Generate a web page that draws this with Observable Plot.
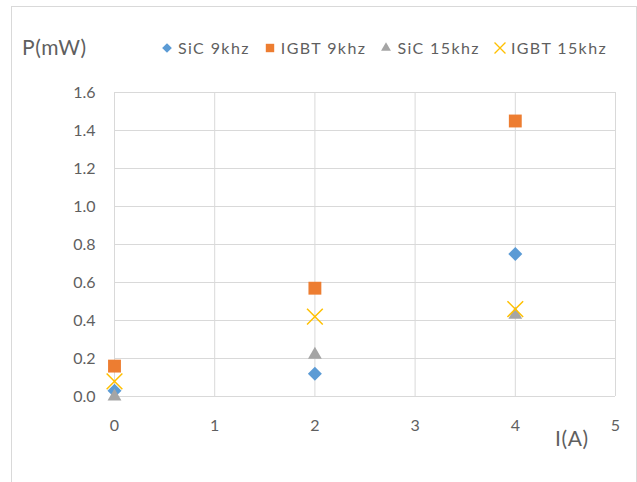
<!DOCTYPE html>
<html>
<head>
<meta charset="utf-8">
<script src="https://cdn.jsdelivr.net/npm/d3@7"></script>
<script src="https://cdn.jsdelivr.net/npm/@observablehq/plot@0.6"></script>
<style>
  html, body { margin: 0; padding: 0; background: #fff; }
  #chart { position: relative; width: 637px; height: 482px; overflow: hidden; font-family: Lato, "Liberation Sans", sans-serif; color: #5f5f5f; }
  #frame { position: absolute; left: 11px; top: 6px; width: 626px; height: 520px; box-sizing: border-box; border: 1px solid #d9d9d9; }
  #plot { position: absolute; left: 0; top: 0; }
  .title { position: absolute; font-size: 21px; line-height: 1; white-space: nowrap; letter-spacing: 0.6px; }
  #ytitle { left: 22px; top: 36px; }
  #xtitle { left: 555px; top: 427px; }
  #legend { position: absolute; left: 161px; top: 40px; display: flex; align-items: center; font-size: 16px; letter-spacing: 1.4px; line-height: 1; white-space: nowrap; }
  #legend .item { display: flex; align-items: center; margin-right: 14px; }
  #legend svg { margin-right: 5px; overflow: visible; }
</style>
</head>
<body>
<div id="chart">
  <div id="frame"></div>
  <div id="plot"></div>
  <div class="title" id="ytitle">P(mW)</div>
  <div class="title" id="xtitle">I(A)</div>
  <div id="legend"></div>
</div>
<script>
// Current (A) at which each loss was measured
const current = [0, 2, 4];

// Power loss (mW) per device and switching frequency
const sic9 = [0.03, 0.12, 0.75];
const igbt9 = [0.16, 0.57, 1.45];
const sic15 = [0.0, 0.22, 0.43];
const igbt15 = [0.08, 0.42, 0.46];

const seriesNames = ["SiC 9khz", "IGBT 9khz", "SiC 15khz", "IGBT 15khz"];
const seriesColors = ["#5B9BD5", "#ED7D31", "#A5A5A5", "#FFC000"];
const seriesSymbols = ["diamond2", "square2", "triangle2", "times"];

const xTicks = [0, 1, 2, 3, 4, 5];
const yTicks = [0, 0.2, 0.4, 0.6, 0.8, 1.0, 1.2, 1.4, 1.6];

const rows = (values) => current.map((c, i) => ({current: c, power: values[i]}));

const grid = {stroke: "#d9d9d9", strokeOpacity: 1, strokeWidth: 1};
const tickText = {tickSize: 0, label: null, fontSize: 16, fill: "#5f5f5f", letterSpacing: "0.4px"};

const chart = Plot.plot({
  width: 637,
  height: 482,
  marginLeft: 114,
  marginRight: 22,
  marginTop: 92,
  marginBottom: 86,
  style: {background: "transparent", fontFamily: "Lato, 'Liberation Sans', sans-serif", fontSize: "16px", color: "#5f5f5f"},
  x: {domain: [0, 5]},
  y: {domain: [0, 1.6]},
  marks: [
    Plot.gridX(xTicks, grid),
    Plot.gridY(yTicks, grid),
    Plot.axisX(xTicks, {...tickText, tickPadding: 23}),
    Plot.axisY(yTicks, {...tickText, tickPadding: 19, tickFormat: (d) => d.toFixed(1)}),
    Plot.dot(rows(sic9), {x: "current", y: "power", symbol: "diamond2", r: 6.3, fill: seriesColors[0], stroke: "none"}),
    Plot.dot(rows(igbt9), {x: "current", y: "power", symbol: "square2", r: 8.2, fill: seriesColors[1], stroke: "none"}),
    Plot.dot(rows(sic15), {x: "current", y: "power", symbol: "triangle2", r: 6.6, fill: seriesColors[2], stroke: "none"}),
    Plot.dot(rows(igbt15), {x: "current", y: "power", symbol: "times", r: 7.2, fill: "none", stroke: seriesColors[3], strokeWidth: 1.5})
  ]
});
document.getElementById("plot").append(chart);

// Legend row with the same symbols as the marks
const symbolTypes = {diamond2: d3.symbolDiamond2, square2: d3.symbolSquare2, triangle2: d3.symbolTriangle2, times: d3.symbolTimes};
const legendSizes = [60, 90, 70, 80];
const legend = d3.select("#legend");
seriesNames.forEach((name, i) => {
  const item = legend.append("div").attr("class", "item");
  const svg = item.append("svg").attr("width", 12).attr("height", 12);
  const stroked = seriesSymbols[i] === "times";
  svg.append("path")
    .attr("transform", "translate(6,6)")
    .attr("d", d3.symbol(symbolTypes[seriesSymbols[i]], legendSizes[i])())
    .attr("fill", stroked ? "none" : seriesColors[i])
    .attr("stroke", stroked ? seriesColors[i] : "none")
    .attr("stroke-width", 1.3);
  item.append("span").text(name);
});
</script>
</body>
</html>
